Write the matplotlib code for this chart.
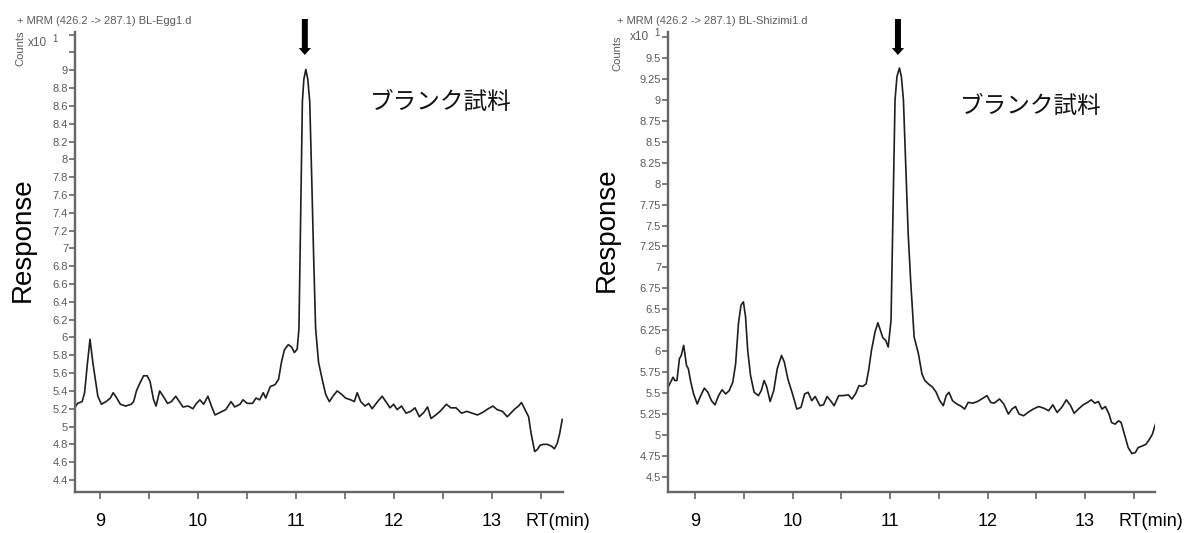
import matplotlib
matplotlib.use("Agg")
import matplotlib.pyplot as plt
from matplotlib.ticker import FixedLocator, FixedFormatter

# ---------------- data ----------------
egg_time = [
    8.734, 8.770, 8.818, 8.843, 8.869, 8.898, 8.927, 8.953, 8.978, 9.015,
    9.062, 9.106, 9.135, 9.171, 9.208, 9.262, 9.317, 9.343, 9.372, 9.408,
    9.445, 9.481, 9.510, 9.547, 9.572, 9.609, 9.645, 9.689, 9.729, 9.773,
    9.809, 9.846, 9.900, 9.948, 9.984, 10.020, 10.057, 10.101, 10.137, 10.174,
    10.228, 10.283, 10.337, 10.374, 10.429, 10.458, 10.502, 10.556, 10.592, 10.629,
    10.666, 10.691, 10.738, 10.786, 10.822, 10.851, 10.881, 10.921, 10.957, 10.983,
    11.012, 11.030, 11.050, 11.065, 11.080, 11.100, 11.120, 11.140, 11.160, 11.180,
    11.200, 11.230, 11.267, 11.303, 11.340, 11.376, 11.420, 11.467, 11.504, 11.558,
    11.595, 11.624, 11.660, 11.704, 11.741, 11.777, 11.832, 11.879, 11.923, 11.959,
    11.996, 12.032, 12.076, 12.123, 12.171, 12.214, 12.258, 12.305, 12.342, 12.378,
    12.426, 12.469, 12.535, 12.579, 12.633, 12.688, 12.743, 12.797, 12.852, 12.907,
    12.961, 13.009, 13.052, 13.107, 13.155, 13.191, 13.235, 13.271, 13.300, 13.337,
    13.373, 13.399, 13.435, 13.461, 13.490, 13.526, 13.563, 13.606, 13.636, 13.665,
    13.690, 13.716,
]
egg_resp = [
    5.19, 5.26, 5.28, 5.38, 5.68, 5.98, 5.72, 5.53, 5.34, 5.25,
    5.28, 5.32, 5.38, 5.32, 5.25, 5.23, 5.25, 5.28, 5.40, 5.49,
    5.57, 5.57, 5.51, 5.30, 5.23, 5.40, 5.34, 5.26, 5.28, 5.34,
    5.28, 5.22, 5.23, 5.20, 5.26, 5.30, 5.25, 5.34, 5.23, 5.13,
    5.16, 5.19, 5.28, 5.22, 5.25, 5.30, 5.26, 5.26, 5.32, 5.30,
    5.38, 5.32, 5.45, 5.47, 5.53, 5.72, 5.86, 5.92, 5.89, 5.83,
    5.87, 6.10, 7.60, 8.65, 8.90, 9.01, 8.90, 8.65, 7.80, 6.90,
    6.10, 5.72, 5.53, 5.36, 5.28, 5.34, 5.40, 5.36, 5.32, 5.30,
    5.28, 5.38, 5.28, 5.23, 5.26, 5.20, 5.28, 5.34, 5.27, 5.21,
    5.25, 5.19, 5.23, 5.15, 5.17, 5.21, 5.11, 5.16, 5.22, 5.09,
    5.13, 5.17, 5.25, 5.21, 5.21, 5.15, 5.17, 5.15, 5.13, 5.16,
    5.20, 5.23, 5.19, 5.17, 5.11, 5.15, 5.20, 5.23, 5.27, 5.19,
    5.11, 4.92, 4.72, 4.74, 4.79, 4.80, 4.80, 4.78, 4.75, 4.81,
    4.92, 5.08,
]

shizimi_time = [
    8.721, 8.746, 8.772, 8.790, 8.812, 8.837, 8.856, 8.881, 8.910, 8.929,
    8.954, 8.983, 9.020, 9.056, 9.093, 9.129, 9.166, 9.202, 9.239, 9.275,
    9.312, 9.348, 9.385, 9.414, 9.443, 9.469, 9.494, 9.516, 9.538, 9.567,
    9.604, 9.648, 9.677, 9.706, 9.732, 9.768, 9.805, 9.841, 9.885, 9.914,
    9.950, 9.998, 10.042, 10.085, 10.122, 10.158, 10.195, 10.231, 10.279, 10.316,
    10.352, 10.388, 10.425, 10.472, 10.516, 10.571, 10.607, 10.644, 10.680, 10.717,
    10.753, 10.779, 10.808, 10.845, 10.874, 10.899, 10.925, 10.954, 10.980, 11.009,
    11.030, 11.050, 11.070, 11.095, 11.115, 11.136, 11.160, 11.185, 11.210, 11.246,
    11.290, 11.326, 11.356, 11.392, 11.436, 11.472, 11.509, 11.545, 11.575, 11.604,
    11.640, 11.684, 11.720, 11.764, 11.801, 11.848, 11.896, 11.939, 11.994, 12.031,
    12.067, 12.122, 12.166, 12.213, 12.250, 12.286, 12.323, 12.370, 12.414, 12.469,
    12.524, 12.578, 12.626, 12.670, 12.713, 12.761, 12.808, 12.852, 12.888, 12.932,
    12.980, 13.027, 13.064, 13.100, 13.137, 13.173, 13.209, 13.246, 13.272, 13.308,
    13.345, 13.370, 13.407, 13.443, 13.480, 13.516, 13.545, 13.589, 13.626, 13.662,
    13.691, 13.728,
]
shizimi_resp = [
    5.57, 5.63, 5.69, 5.65, 5.65, 5.91, 5.95, 6.07, 5.83, 5.79,
    5.63, 5.49, 5.37, 5.47, 5.56, 5.51, 5.41, 5.36, 5.47, 5.54,
    5.49, 5.53, 5.63, 5.85, 6.33, 6.55, 6.59, 6.41, 6.01, 5.71,
    5.51, 5.47, 5.53, 5.65, 5.58, 5.40, 5.53, 5.79, 5.95, 5.87,
    5.67, 5.49, 5.31, 5.33, 5.49, 5.51, 5.41, 5.46, 5.35, 5.36,
    5.46, 5.41, 5.35, 5.47, 5.47, 5.48, 5.43, 5.49, 5.59, 5.58,
    5.61, 5.77, 6.01, 6.23, 6.34, 6.25, 6.16, 6.13, 6.05, 6.37,
    7.70, 9.00, 9.28, 9.38, 9.28, 9.00, 8.20, 7.40, 6.85, 6.17,
    5.97, 5.73, 5.65, 5.61, 5.57, 5.51, 5.41, 5.35, 5.47, 5.51,
    5.41, 5.37, 5.35, 5.31, 5.39, 5.38, 5.40, 5.43, 5.47, 5.39,
    5.38, 5.43, 5.37, 5.25, 5.31, 5.34, 5.25, 5.23, 5.27, 5.31,
    5.34, 5.32, 5.29, 5.36, 5.27, 5.33, 5.42, 5.35, 5.26, 5.31,
    5.36, 5.39, 5.42, 5.38, 5.40, 5.31, 5.34, 5.25, 5.15, 5.13,
    5.17, 5.15, 5.00, 4.85, 4.78, 4.79, 4.85, 4.87, 4.89, 4.95,
    5.01, 5.15,
]

egg_yticks = [4.4, 4.6, 4.8, 5.0, 5.2, 5.4, 5.6, 5.8, 6.0, 6.2, 6.4, 6.6, 6.8,
              7.0, 7.2, 7.4, 7.6, 7.8, 8.0, 8.2, 8.4, 8.6, 8.8, 9.0, 9.2, 9.4]
egg_ylabels = ["4.4", "4.6", "4.8", "5", "5.2", "5.4", "5.6", "5.8", "6", "6.2",
               "6.4", "6.6", "6.8", "7", "7.2", "7.4", "7.6", "7.8", "8", "8.2",
               "8.4", "8.6", "8.8", "9", "", ""]
shizimi_yticks = [4.5, 4.75, 5.0, 5.25, 5.5, 5.75, 6.0, 6.25, 6.5, 6.75, 7.0,
                  7.25, 7.5, 7.75, 8.0, 8.25, 8.5, 8.75, 9.0, 9.25, 9.5, 9.75]
shizimi_ylabels = ["4.5", "4.75", "5", "5.25", "5.5", "5.75", "6", "6.25", "6.5",
                   "6.75", "7", "7.25", "7.5", "7.75", "8", "8.25", "8.5", "8.75",
                   "9", "9.25", "9.5", ""]
xticks_major = [9, 10, 11, 12, 13]
xticks_minor = [9.5, 10.5, 11.5, 12.5, 13.5]
xtick_labels = ["9", "10", "11", "12", "13"]

titles = ["+ MRM (426.2 -> 287.1) BL-Egg1.d", "+ MRM (426.2 -> 287.1) BL-Shizimi1.d"]
sample_label = "ブランク試料"
arrow_times = [11.09, 11.08]

# ---------------- figure ----------------
W, H = 1198, 533
fig = plt.figure(figsize=(W / 100, H / 100), dpi=100)
plt.rcParams['font.family'] = ['Liberation Sans', 'DejaVu Sans']

def fx(px):
    return px / W

def fy(py):
    return 1 - py / H

GRAY = '#5a5a5a'
panels = [
    dict(left=75, right=563, t=egg_time, v=egg_resp, ylim=(4.265, 9.43),
         yt=egg_yticks, yl=egg_ylabels, xlim=(8.745, 13.724), title=titles[0],
         tx=17, x10=(28, 43), counts=(20, 48), resp=(23, 240),
         jp=(370, 102), rt=13.34),
    dict(left=668, right=1155, t=shizimi_time, v=shizimi_resp, ylim=(4.32, 9.81),
         yt=shizimi_yticks, yl=shizimi_ylabels, xlim=(8.72, 13.718), title=titles[1],
         tx=617, x10=(630, 37), counts=(617, 53), resp=(607, 230),
         jp=(960, 106), rt=13.34),
]

for i, p in enumerate(panels):
    ax = fig.add_axes([fx(p['left']), fy(492), fx(p['right'] - p['left']), (492 - 32) / H])
    ax.plot(p['t'], p['v'], color='#1e1e1e', lw=1.2)
    ax.set_xlim(*p['xlim'])
    ax.set_ylim(*p['ylim'])
    for s in ['top', 'right']:
        ax.spines[s].set_visible(False)
    for s in ['left', 'bottom']:
        ax.spines[s].set_color('#666666')
        ax.spines[s].set_linewidth(1.7)
    ax.yaxis.set_major_locator(FixedLocator(p['yt']))
    ax.yaxis.set_major_formatter(FixedFormatter(p['yl']))
    ax.tick_params(axis='y', length=4, width=1.2, color='#666666', pad=1,
                   labelsize=8, labelcolor=GRAY)
    ax.xaxis.set_major_locator(FixedLocator(xticks_major))
    ax.xaxis.set_major_formatter(FixedFormatter(xtick_labels))
    ax.xaxis.set_minor_locator(FixedLocator(xticks_minor))
    ax.tick_params(axis='x', which='both', length=5, width=1.2, color='#666666',
                   pad=10, labelsize=13, labelcolor='black')
    ax.annotate('RT(min)', xy=(p['rt'], 0), xycoords=('data', 'axes fraction'),
                xytext=(0, -30), textcoords='offset pixels', ha='left', va='center',
                fontsize=13, color='black', annotation_clip=False)
    # arrow above the main peak
    ax.annotate('', xy=(arrow_times[i], H - 55), xycoords=('data', 'figure pixels'),
                xytext=(arrow_times[i], H - 19), textcoords=('data', 'figure pixels'),
                arrowprops=dict(arrowstyle='simple,head_length=0.5,head_width=0.88,tail_width=0.43',
                                mutation_scale=10, fc='black', ec='black', lw=0,
                                shrinkA=0, shrinkB=0),
                annotation_clip=False)
    # texts
    fig.text(fx(p['tx']), fy(21), p['title'], fontsize=8, color=GRAY, ha='left', va='center')
    fig.text(fx(p['x10'][0]), fy(p['x10'][1]), 'x10', fontsize=8.5, color=GRAY, ha='left', va='center')
    fig.text(fx(p['x10'][0] + 24), fy(p['x10'][1] - 4), '1', fontsize=7, color=GRAY, ha='left', va='center')
    fig.text(fx(p['counts'][0]), fy(p['counts'][1]), 'Counts', fontsize=8, color=GRAY,
             rotation=90, ha='center', va='center')
    fig.text(fx(p['resp'][0]), fy(p['resp'][1]), 'Response', fontsize=20, color='black',
             rotation=90, ha='center', va='center')
    fig.text(fx(p['jp'][0]), fy(p['jp'][1]), sample_label, fontsize=17, color='#111111',
             ha='left', va='center', family=['Noto Sans CJK JP', 'DejaVu Sans'])

fig.savefig('out.png', dpi=100)
